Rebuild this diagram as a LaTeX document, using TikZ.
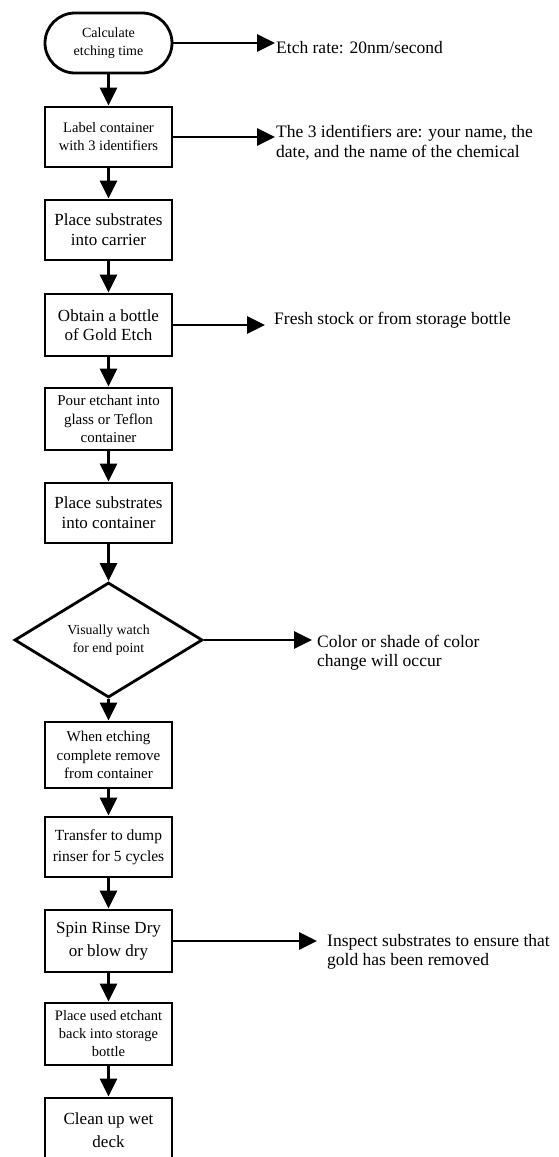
\documentclass[tikz,border=0pt]{standalone}
\usepackage{fontspec}
\setmainfont{Liberation Serif}
\usetikzlibrary{shapes.geometric,arrows.meta}
\begin{document}
\begin{tikzpicture}[x=1pt,y=-1pt,
  stepbox/.style={draw, line width=2.8pt, minimum width=127pt, align=center, inner sep=2pt},
  flow/.style={line width=2.8pt, -{Triangle[length=18pt,width=17pt]}},
  note/.style={anchor=west, align=left, inner sep=0pt, font=\fontsize{17.5}{19.5}\selectfont},
  fs/.style 2 args={font=\fontsize{#1}{#2}\selectfont},
]
\useasboundingbox (0,0) rectangle (559,1157);
\clip (0,0) rectangle (559,1157);
\fill[white] (0,0) rectangle (559,1157);

% main column of steps
\node[stepbox, rounded corners=30pt, minimum height=60pt, fs={14}{18}] (calc) at (108.5,43) {Calculate\\etching time};
\node[stepbox, minimum height=60pt, fs={14.5}{18}] (lab) at (108.5,137) {Label container\\with 3 identifiers};
\node[stepbox, minimum height=60pt, fs={17}{20}] (car) at (108.5,230) {Place substrates\\into carrier};
\node[stepbox, minimum height=62pt, fs={17}{18.5}] (obt) at (108.5,325) {Obtain a bottle\\of Gold Etch};
\node[stepbox, minimum height=62pt, fs={15}{18.5}] (pour) at (108.5,419) {Pour etchant into\\glass or Teflon\\container};
\node[stepbox, minimum height=60pt, fs={17}{20}] (plc) at (108.5,513) {Place substrates\\into container};
\node[draw, shape=diamond, line width=2.8pt, minimum width=188pt, minimum height=115pt, inner sep=0pt, align=center, fs={13.8}{18}] (dia) at (108.5,640) {Visually watch\\for end point};
\node[stepbox, minimum height=66pt, fs={15}{18.5}] (when) at (108.5,755) {When etching\\complete remove\\from container};
\node[stepbox, minimum height=60pt, fs={15.5}{21}] (tra) at (108.5,847) {Transfer to dump\\rinser for 5 cycles};
\node[stepbox, minimum height=62pt, fs={17}{23}] (spin) at (108.5,941) {Spin Rinse Dry\\or blow dry};
\node[stepbox, minimum height=62pt, fs={14.5}{18}] (used) at (108.5,1034) {Place used etchant\\back into storage\\bottle};
\node[stepbox, minimum height=64pt, fs={17}{23}] (clean) at (108.5,1130) {Clean up wet\\deck};

% side notes
\node[note] (rate) at (276,48) {Etch rate: 20nm/second};
\node[note] (ids) at (276,142.5) {The 3 identifiers are: your name, the\\date, and the name of the chemical};
\node[note] (fresh) at (274,320) {Fresh stock or from storage bottle};
\node[note] (color) at (317,652.5) {Color or shade of color\\change will occur};
\node[note] (insp) at (327,952) {Inspect substrates to ensure that\\gold has been removed};

% flow down the column
\draw[flow] (calc.south) -- (lab.north);
\draw[flow] (lab.south) -- (car.north);
\draw[flow] (car.south) -- (obt.north);
\draw[flow] (obt.south) -- (pour.north);
\draw[flow] (pour.south) -- (plc.north);
\draw[flow] (plc.south) -- (dia.north);
\draw[flow] (dia.south) -- (when.north);
\draw[flow] (when.south) -- (tra.north);
\draw[flow] (tra.south) -- (spin.north);
\draw[flow] (spin.south) -- (used.north);
\draw[flow] (used.south) -- (clean.north);

% arrows out to the notes
\draw[flow, shorten >=1pt] (calc.east) -- (calc -| rate.west);
\draw[flow, shorten >=1pt] (lab.east) -- (lab -| ids.west);
\draw[flow, shorten >=9pt] (obt.east) -- (obt -| fresh.west);
\draw[flow, shorten >=5pt] (dia.east) -- (dia -| color.west);
\draw[flow, shorten >=10pt] (spin.east) -- (spin -| insp.west);
\end{tikzpicture}
\end{document}
